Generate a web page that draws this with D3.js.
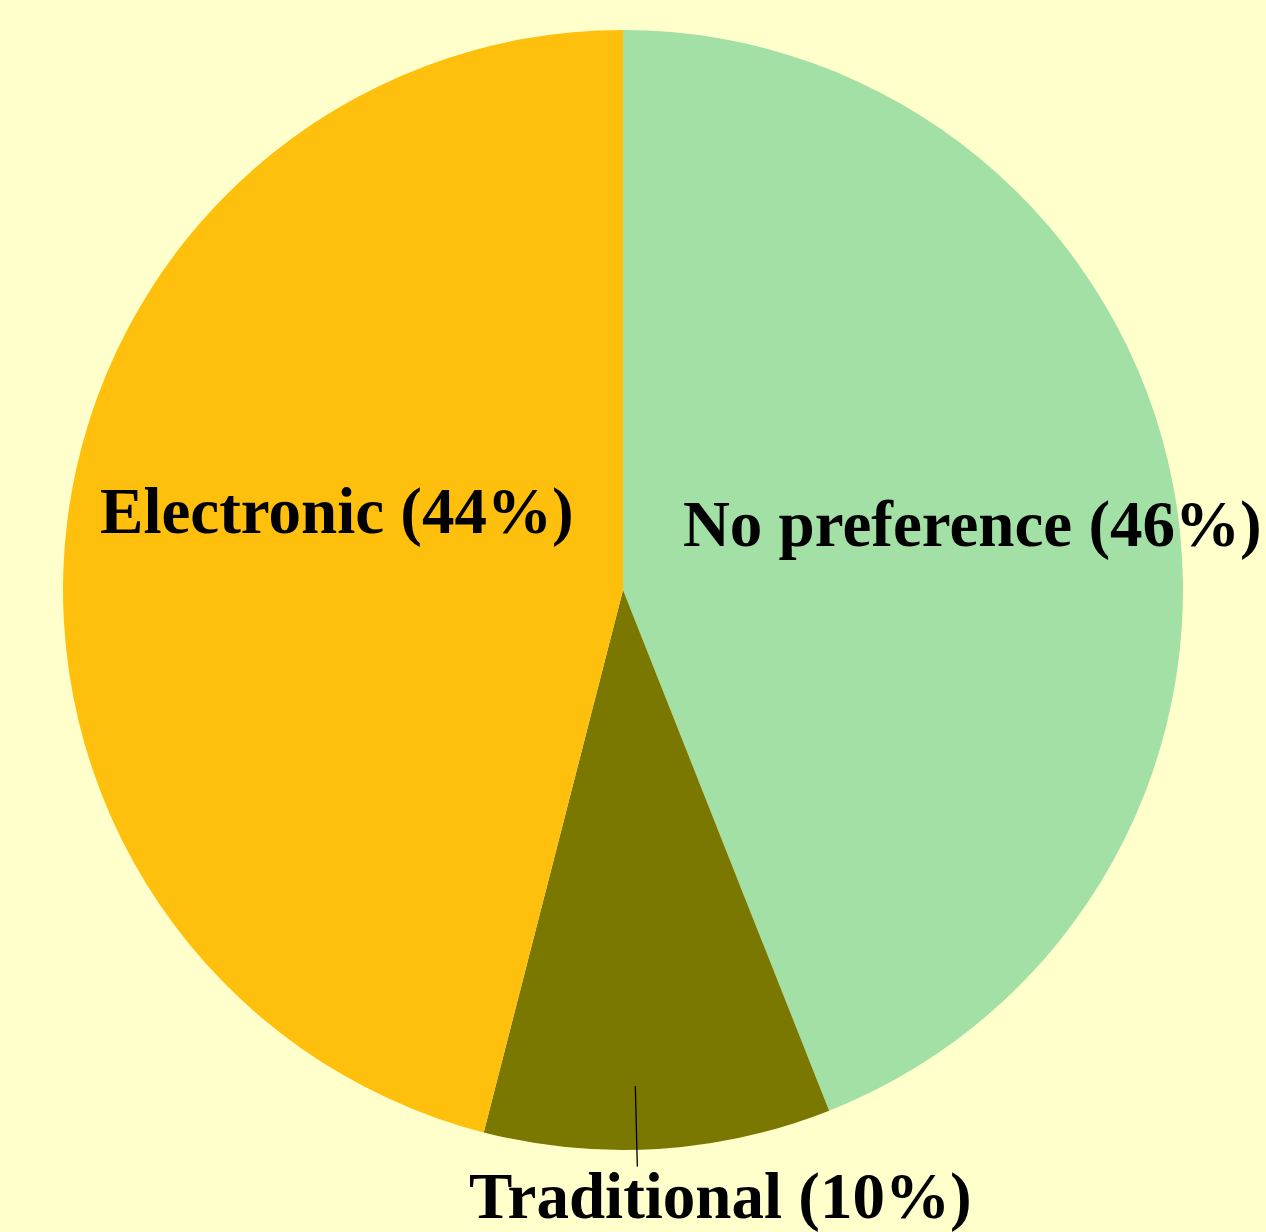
<!DOCTYPE html>
<html>
<head>
<meta charset="utf-8">
<script src="https://cdn.jsdelivr.net/npm/d3@7"></script>
<style>
  html, body { margin:0; padding:0; background:#ffffcc; }
  svg { display:block; }
  .lbl { font-family:"Liberation Serif", "Times New Roman", serif; font-weight:bold; font-size:65px; fill:#000; }
</style>
</head>
<body>
<svg id="chart" width="1266" height="1232"></svg>
<script>
(function(){

const WIDTH = 1266, HEIGHT = 1232;

// slice sizes as drawn, clockwise from 12 o'clock
const categories = ['No preference', 'Traditional', 'Electronic'];
const values = [44, 10, 46];
const labels = ['No preference (46%)', 'Traditional (10%)', 'Electronic (44%)'];
const colors = ['#a3e0a6', '#7a7800', '#ffc00d'];

const cx = 623, cy = 590, R = 560;

const svg = d3.select('#chart');
svg.append('rect').attr('width', WIDTH).attr('height', HEIGHT).attr('fill', '#ffffcc');

const g = svg.append('g').attr('transform', `translate(${cx},${cy})`);

const pie = d3.pie().sort(null).value(d => d.value);
const arcs = pie(categories.map((c, i) => ({name:c, value:values[i], label:labels[i], color:colors[i]})));
const arc = d3.arc().innerRadius(0).outerRadius(R);

g.selectAll('path.slice')
  .data(arcs)
  .join('path')
  .attr('class', 'slice')
  .attr('d', arc)
  .attr('fill', d => d.data.color);

const mid = d => (d.startAngle + d.endAngle) / 2;
const polar = (a, r) => [Math.sin(a) * r, -Math.cos(a) * r];

// inside labels
const inside = [
  {i:0, k:0.635, dy:23},
  {i:2, k:0.515, dy:-21}
];
inside.forEach(o => {
  const d = arcs[o.i];
  const [x, y] = polar(mid(d), R * o.k);
  g.append('text').attr('class', 'lbl')
    .attr('x', x).attr('y', y + o.dy)
    .attr('text-anchor', 'middle')
    .text(d.data.label);
});

// outside label for the small slice, with leader line
const t = arcs[1];
const a = mid(t) + 0.038;
const p1 = polar(a, R * 0.886), p2 = polar(a, R * 1.03);
g.append('line')
  .attr('x1', p1[0]).attr('y1', p1[1])
  .attr('x2', p2[0]).attr('y2', p2[1])
  .attr('stroke', '#000').attr('stroke-width', 1.3);
g.append('text').attr('class', 'lbl')
  .attr('x', p2[0] + 83).attr('y', p2[1] + 51)
  .attr('text-anchor', 'middle')
  .text(t.data.label);

})();
</script>
</body>
</html>
